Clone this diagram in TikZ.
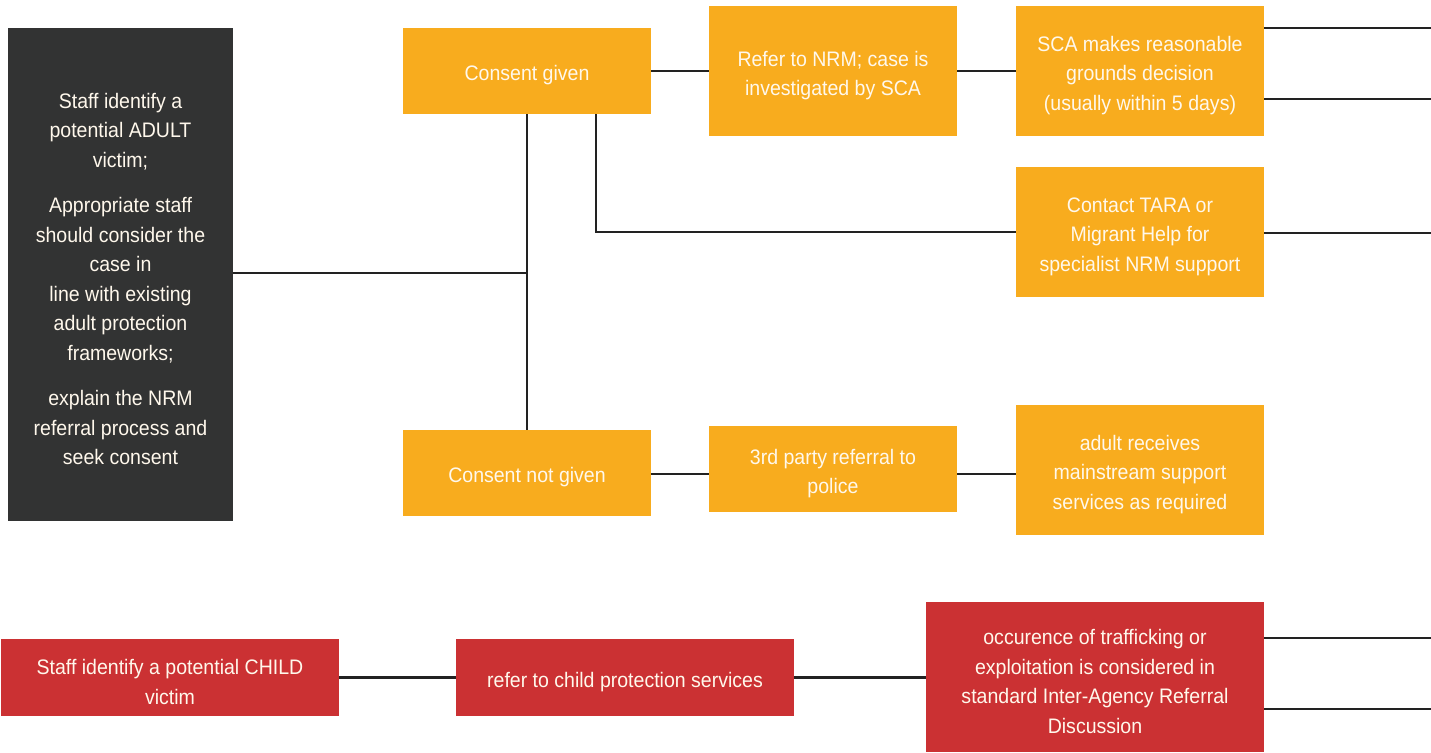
\documentclass[tikz,border=0pt]{standalone}
\usepackage{fontspec}
\setmainfont{Liberation Sans}[FakeStretch=0.93]
\definecolor{boxorange}{HTML}{F8AC1E}
\definecolor{boxred}{HTML}{CB3133}
\definecolor{boxdark}{HTML}{323333}
\definecolor{linedark}{HTML}{222222}
\definecolor{boxtext}{HTML}{FFF8EC}
% tall zero-width strut that opens the first line of every box text
\newcommand{\firstline}{\rule{0pt}{24pt}}
\tikzset{
  flowbox/.style={rectangle, inner sep=0pt, text=boxtext, align=center,
    font=\fontsize{21}{29.5}\selectfont, anchor=center},
  orangebox/.style={flowbox, fill=boxorange},
  redbox/.style={flowbox, fill=boxred},
  darkbox/.style={flowbox, fill=boxdark},
  link/.style={draw=linedark, line width=2.4pt},
}
\begin{document}
\begin{tikzpicture}[x=1pt, y=-1pt]
\useasboundingbox (0,0) rectangle (1431,752);

% adult pathway
\node[darkbox, minimum width=225pt, minimum height=493pt] (adult) at (120.5,274.5)
  {\firstline Staff identify a\\potential ADULT\\victim;\\[16pt]
   Appropriate staff\\should consider the\\case in\\line with existing\\adult protection\\frameworks;\\[16pt]
   explain the NRM\\referral process and\\seek consent};

\node[orangebox, minimum width=248pt, minimum height=86pt] (cg) at (527,71) {\firstline Consent given};
\node[orangebox, minimum width=248pt, minimum height=86pt] (cng) at (527,473) {\firstline Consent not given};

\node[orangebox, minimum width=248pt, minimum height=130pt] (nrm) at (833,71) {\firstline Refer to NRM; case is\\investigated by SCA};
\node[orangebox, minimum width=248pt, minimum height=86pt] (police) at (833,469) {\firstline 3rd party referral to\\police};

\node[orangebox, minimum width=248pt, minimum height=130pt] (sca) at (1140,71) {\firstline SCA makes reasonable\\grounds decision\\(usually within 5 days)};
\node[orangebox, minimum width=248pt, minimum height=130pt] (tara) at (1140,232) {\firstline Contact TARA or\\Migrant Help for\\specialist NRM support};
\node[orangebox, minimum width=248pt, minimum height=130pt] (support) at (1140,470) {\firstline adult receives\\mainstream support\\services as required};

% child pathway
\node[redbox, minimum width=338pt, minimum height=77pt] (child) at (170,677.5) {\firstline Staff identify a potential CHILD\\victim};
\node[redbox, minimum width=338pt, minimum height=77pt] (cps) at (625,677.5) {\firstline refer to child protection services};
\node[redbox, minimum width=338pt, minimum height=150pt] (iard) at (1095,677) {\firstline occurence of trafficking or\\exploitation is considered in\\standard Inter-Agency Referral\\Discussion};

% free ends at the right edge
\coordinate (scaA) at (1431,28);
\coordinate (scaB) at (1431,99);
\coordinate (taraOut) at (1431,233);
\coordinate (iardA) at (1431,638);
\coordinate (iardB) at (1431,709);
\coordinate (branch) at ([xshift=69pt]cg.south);

% connectors
\draw[link] (adult.east |- 0,273) -- (cg.south |- 0,273);
\draw[link] (cg.south) -- (cng.north);
\draw[link] (cg.east) -- (nrm.west);
\draw[link] (nrm.east) -- (sca.west);
\draw[link] (branch) |- (tara.west);
\draw[link] (sca.east |- scaA) -- (scaA);
\draw[link] (sca.east |- scaB) -- (scaB);
\draw[link] (tara.east |- taraOut) -- (taraOut);
\draw[link] (cng.east |- 0,474) -- (police.west |- 0,474);
\draw[link] (police.east |- 0,474) -- (support.west |- 0,474);

\draw[link] (child.east) -- (cps.west);
\draw[link] (cps.east) -- (iard.west |- cps.east);
\draw[link] (iard.east |- iardA) -- (iardA);
\draw[link] (iard.east |- iardB) -- (iardB);
\end{tikzpicture}
\end{document}
